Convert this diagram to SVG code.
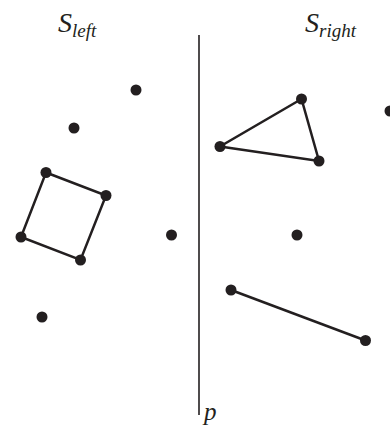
<svg xmlns="http://www.w3.org/2000/svg" width="390" height="430" viewBox="0 0 390 430">
<style>
.e{stroke:#231f20;stroke-width:2.5;fill:none}
.d{fill:#231f20}
.t{font-family:"Liberation Serif","Times New Roman",serif;font-style:italic;fill:#231f20}
</style>
<rect width="390" height="430" fill="#fff"/>
<g id="connectors">
<line x1="199" y1="35" x2="199" y2="415" stroke="#231f20" stroke-width="1.6"/>
<polygon class="e" points="46,172.5 106,195.5 80.5,260 21,237"/>
<polygon class="e" points="301.5,99 220,146.5 319,161"/>
<line class="e" x1="231" y1="290" x2="365.5" y2="340.5"/>
</g>
<g id="labels">
<text class="t" x="58" y="32" font-size="28">S<tspan font-size="19" dy="5">left</tspan></text>
<text class="t" x="305" y="32" font-size="28">S<tspan font-size="19" dy="5">right</tspan></text>
<text class="t" x="204" y="420" font-size="25">p</text>
</g>
<g id="nodes">
<circle id="n1" class="d" cx="136" cy="90" r="5.5"/>
<circle id="n2" class="d" cx="74" cy="128" r="5.5"/>
<circle id="n3" class="d" cx="46" cy="172.5" r="5.5"/>
<circle id="n4" class="d" cx="106" cy="195.5" r="5.5"/>
<circle id="n5" class="d" cx="80.5" cy="260" r="5.5"/>
<circle id="n6" class="d" cx="21" cy="237" r="5.5"/>
<circle id="n7" class="d" cx="171.5" cy="235" r="5.5"/>
<circle id="n8" class="d" cx="42" cy="317" r="5.5"/>
<circle id="n9" class="d" cx="301.5" cy="99" r="5.5"/>
<circle id="n10" class="d" cx="220" cy="146.5" r="5.5"/>
<circle id="n11" class="d" cx="319" cy="161" r="5.5"/>
<circle id="n12" class="d" cx="390" cy="111" r="5.5"/>
<circle id="n13" class="d" cx="297" cy="235" r="5.5"/>
<circle id="n14" class="d" cx="231" cy="290" r="5.5"/>
<circle id="n15" class="d" cx="365.5" cy="340.5" r="5.5"/>
</g>
</svg>
